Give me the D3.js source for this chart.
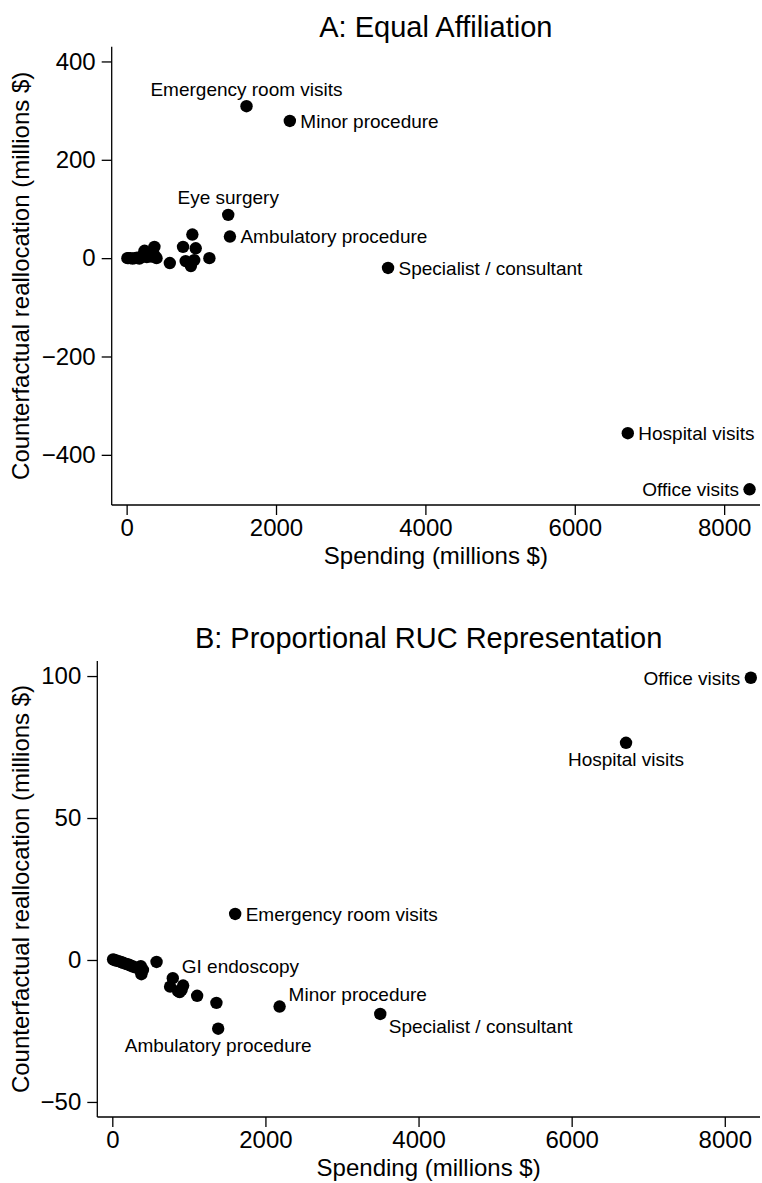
<!DOCTYPE html>
<html>
<head>
<meta charset="utf-8">
<script src="https://cdn.jsdelivr.net/npm/d3@7"></script>
<style>
  html, body { margin: 0; padding: 0; background: #fff; }
  svg { display: block; font-family: "Liberation Sans", Arial, Helvetica, sans-serif; }
</style>
</head>
<body>
<svg id="chart" width="762" height="1183"></svg>
<script>
// ---------------- data ----------------
const services = [
  "Office visits", "Hospital visits", "Specialist / consultant", "Minor procedure",
  "Emergency room visits", "Ambulatory procedure", "Eye surgery", "", "", "", "", "",
  "GI endoscopy", "", "", "", "", "", "", "", "", "", "", "", "", "", "", "", "", "", "", ""
];
const spending = [
  8340, 6710, 3500, 2185, 1605, 1383, 1360, 1108, 925, 905, 880, 860,
  790, 755, 578, 400, 380, 372, 350, 330, 300, 270, 240, 228, 200, 170, 140, 110, 80, 50, 25, 10
];
const reallocEqual = [
  -470, -356, -20, 279, 309, 44, 88, 0, 20, -4, 48, -16,
  -6, 23, -10, 0, 4, 23, 10, 3, 6, 2, 15, 8, 2, -1, 1, 0, -1, 0, 0, 0
];
const reallocRUC = [
  99.4, 76.5, -19, -16.4, 16.2, -24.2, -15.1, -12.6, -9, -10.5, -11.3, -11,
  -6.4, -9.4, -0.7, -3.5, -5, -2.2, -3, -2.8, -2.6, -2.3, -2, -1.8, -1.5, -1.3, -1, -0.7, -0.4, -0.2, 0, 0.2
];
const xTicks = [0, 2000, 4000, 6000, 8000];
const yTicksA = [-400, -200, 0, 200, 400];
const yTicksB = [-50, 0, 50, 100];

// label clock positions (style)
const labelPosA = {
  "Office visits": 9, "Hospital visits": 3, "Specialist / consultant": 3, "Minor procedure": 3,
  "Emergency room visits": 12, "Ambulatory procedure": 3, "Eye surgery": 12
};
const labelPosB = {
  "Office visits": 9, "Hospital visits": 6, "Specialist / consultant": 4, "Minor procedure": 2,
  "Emergency room visits": 3, "Ambulatory procedure": 6, "GI endoscopy": 2
};

// ---------------- drawing ----------------
const svg = d3.select("#chart");
svg.append("rect").attr("width", 762).attr("height", 1183).attr("fill", "#fff");

function panel(cfg) {
  const g = svg.append("g");
  const x = d3.scaleLinear().domain(cfg.xDomain).range([cfg.left, cfg.right]);
  const y = d3.scaleLinear().domain(cfg.yDomain).range([cfg.bottom, cfg.top]);

  // title
  g.append("text").attr("x", (cfg.left + cfg.right) / 2).attr("y", cfg.titleY)
    .attr("text-anchor", "middle").attr("font-size", 29).attr("fill", "#000").text(cfg.title);

  // axes
  const yAxis = d3.axisLeft(y).tickValues(cfg.yTicks).tickSize(10).tickPadding(6)
    .tickFormat(d => d < 0 ? "\u2212" + Math.abs(d) : String(d));
  const xAxis = d3.axisBottom(x).tickValues(xTicks).tickSize(10).tickPadding(6)
    .tickFormat(d => String(d));

  const ya = g.append("g").attr("transform", `translate(${cfg.left},0)`).call(yAxis);
  const xa = g.append("g").attr("transform", `translate(0,${cfg.bottom})`).call(xAxis);
  [ya, xa].forEach(a => {
    a.select(".domain").remove();
    a.selectAll(".tick line").attr("stroke", "#000").attr("stroke-width", 1.3);
    a.selectAll(".tick text").attr("font-size", 24).attr("fill", "#000")
      .attr("font-family", "'Liberation Sans', Arial, sans-serif");
  });
  g.append("line").attr("x1", cfg.left).attr("x2", cfg.left)
    .attr("y1", cfg.top).attr("y2", cfg.bottom).attr("stroke", "#000").attr("stroke-width", 1.3);
  g.append("line").attr("x1", cfg.left).attr("x2", cfg.right)
    .attr("y1", cfg.bottom).attr("y2", cfg.bottom).attr("stroke", "#000").attr("stroke-width", 1.3);
  xa.selectAll(".tick text").attr("dy", null).attr("y", 31);

  // axis titles
  g.append("text").attr("x", (cfg.left + cfg.right) / 2).attr("y", cfg.bottom + 59)
    .attr("text-anchor", "middle").attr("font-size", 24).attr("fill", "#000")
    .text("Spending (millions $)");
  g.append("text")
    .attr("transform", `translate(29,${(cfg.top + cfg.bottom) / 2}) rotate(-90)`)
    .attr("text-anchor", "middle").attr("font-size", 24).attr("fill", "#000")
    .text("Counterfactual reallocation (millions $)");

  // points
  const data = spending.map((s, i) => ({ name: services[i], x: s, y: cfg.values[i] }));
  g.append("g").selectAll("circle").data(data).join("circle")
    .attr("cx", d => x(d.x)).attr("cy", d => y(d.y)).attr("r", 6.2).attr("fill", "#000");

  // labels
  const off = {
    3:  { dx: 10.5, dy: 6.8, anchor: "start" },
    9:  { dx: -10.5, dy: 6.8, anchor: "end" },
    12: { dx: 0, dy: -10.5, anchor: "middle" },
    6:  { dx: 0, dy: 23.5, anchor: "middle" },
    2:  { dx: 9, dy: -5.5, anchor: "start" },
    4:  { dx: 8.5, dy: 19.5, anchor: "start" }
  };
  g.append("g").selectAll("text").data(data.filter(d => cfg.labelPos[d.name] !== undefined)).join("text")
    .attr("x", d => x(d.x) + off[cfg.labelPos[d.name]].dx)
    .attr("y", d => y(d.y) + off[cfg.labelPos[d.name]].dy)
    .attr("text-anchor", d => off[cfg.labelPos[d.name]].anchor)
    .attr("font-size", 19).attr("fill", "#000")
    .text(d => d.name);
}

panel({
  title: "A: Equal Affiliation", titleY: 37,
  left: 111.7, right: 760, top: 46.7, bottom: 505,
  xDomain: [-200, 8480], yDomain: [-502, 430],
  yTicks: yTicksA, values: reallocEqual, labelPos: labelPosA
});
panel({
  title: "B: Proportional RUC Representation", titleY: 648,
  left: 97.3, right: 760, top: 661, bottom: 1117,
  xDomain: [-196, 8460], yDomain: [-55.3, 105.3],
  yTicks: yTicksB, values: reallocRUC, labelPos: labelPosB
});
</script>
</body>
</html>
